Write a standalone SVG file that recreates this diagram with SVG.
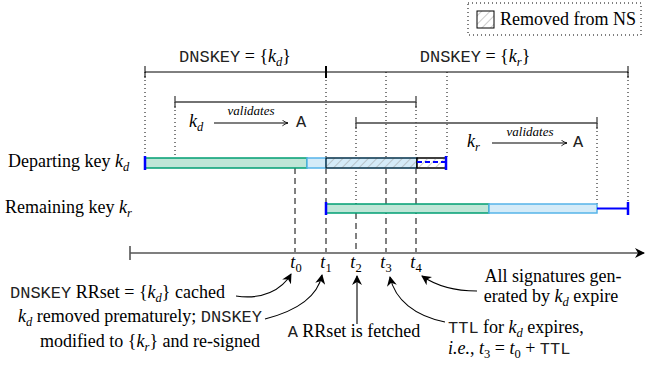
<svg xmlns="http://www.w3.org/2000/svg" width="650" height="366" viewBox="0 0 650 366">
<style>
text{font-family:"Liberation Serif","Times New Roman",serif;font-size:18px;fill:#000}
.mono{font-family:"Liberation Mono","Courier New",monospace;font-size:17px;fill:#222}
.mi{font-style:italic}
.sub{font-size:12.5px;font-style:italic}
.subn{font-size:12.5px;font-style:normal}
.val{font-size:13px;font-style:italic}
.dot{stroke:#000;stroke-width:1;stroke-dasharray:1 3;fill:none}
.dash{stroke:#000;stroke-width:1;stroke-dasharray:6 4;fill:none}
.span{stroke:#000;stroke-width:1;fill:none}
.gspan{stroke:#444;stroke-width:1.3;fill:none}
.green{fill:#bfe6d7;stroke:#009e73;stroke-width:1.5}
.lblue{fill:#d4ebf8;stroke:#56b4e9;stroke-width:1.5}
.btick{stroke:#0000ff;stroke-width:2.5;fill:none}
.conn{stroke:#000;stroke-width:1.1;fill:none}
</style>
<defs>
<pattern id="hatch" patternUnits="userSpaceOnUse" width="6" height="6" patternTransform="rotate(45)">
<line x1="0" y1="0" x2="0" y2="6" stroke="#999" stroke-width="1"/>
</pattern>
<marker id="stealth" viewBox="0 0 10 10" refX="9" refY="5" markerWidth="10" markerHeight="10" markerUnits="userSpaceOnUse" orient="auto">
<path d="M0,0 L10,5 L0,10 L3,5 z" fill="#000"/>
</marker>
<marker id="open" viewBox="0 0 10 10" refX="9" refY="5" markerWidth="7" markerHeight="7" markerUnits="userSpaceOnUse" orient="auto">
<path d="M1,1 Q5,4 9,5 Q5,6 1,9" fill="none" stroke="#000" stroke-width="1.2"/>
</marker>
</defs>

<g id="legend">
<rect x="468" y="3" width="173" height="32" class="dot"/>
<rect x="477" y="11" width="17" height="17" fill="url(#hatch)" stroke="#000" stroke-width="1"/>
<text x="500" y="25">Removed from NS</text>
</g>

<g id="guides">
<line x1="145" y1="72" x2="145" y2="158" class="dot"/>
<line x1="175" y1="102" x2="175" y2="158" class="dot"/>
<line x1="326" y1="72" x2="326" y2="158" class="dot"/>
<line x1="356" y1="123" x2="356" y2="204" class="dot"/>
<line x1="386" y1="72" x2="386" y2="158" class="dot"/>
<line x1="416" y1="102" x2="416" y2="158" class="dot"/>
<line x1="447" y1="72" x2="447" y2="158" class="dot"/>
<line x1="597" y1="123" x2="597" y2="204" class="dot"/>
<line x1="628" y1="72" x2="628" y2="204" class="dot"/>
<line x1="295" y1="168" x2="295" y2="252" class="dash"/>
<line x1="326" y1="168" x2="326" y2="252" class="dash"/>
<line x1="356" y1="213" x2="356" y2="252" class="dash"/>
<line x1="386" y1="168" x2="386" y2="252" class="dash"/>
<line x1="416" y1="168" x2="416" y2="252" class="dash"/>
</g>

<g id="dnskey-spans">
<path d="M145,72 H628 M145,66 V78 M628,66 V78" class="span"/>
<path d="M326,66 V78" stroke="#000" stroke-width="2"/>
<text x="235" y="62" text-anchor="middle"><tspan class="mono">DNSKEY</tspan> = {<tspan class="mi">k</tspan><tspan class="sub" dy="4">d</tspan><tspan dy="-4">}</tspan></text>
<text x="475" y="62" text-anchor="middle"><tspan class="mono">DNSKEY</tspan> = {<tspan class="mi">k</tspan><tspan class="sub" dy="4">r</tspan><tspan dy="-4">}</tspan></text>
</g>

<g id="kd-validates">
<path d="M175,102 H416 M175,96 V108 M416,96 V108" class="gspan"/>
<text x="189" y="127" class="mi">k<tspan class="sub" dy="4">d</tspan></text>
<line x1="214" y1="123" x2="288" y2="123" class="conn" marker-end="url(#open)"/>
<text x="251" y="115" class="val" text-anchor="middle">validates</text>
<text x="296" y="127" class="mono">A</text>
</g>

<g id="kr-validates">
<path d="M356,123 H597 M356,117 V129 M597,117 V129" class="gspan"/>
<text x="467" y="147" class="mi">k<tspan class="sub" dy="4">r</tspan></text>
<line x1="492" y1="143" x2="567" y2="143" class="conn" marker-end="url(#open)"/>
<text x="530" y="136" class="val" text-anchor="middle">validates</text>
<text x="573" y="147" class="mono">A</text>
</g>

<g id="departing-key">
<text x="8" y="167">Departing key <tspan class="mi">k</tspan><tspan class="sub" dy="4">d</tspan></text>
<rect x="145" y="158" width="162" height="10" class="green"/>
<rect x="307" y="158" width="19" height="10" class="lblue"/>
<rect x="326" y="158" width="91" height="10" class="lblue"/>
<rect x="326" y="158" width="91" height="10" fill="url(#hatch)" stroke="#000" stroke-width="1"/>
<rect x="417" y="158" width="29" height="10" fill="#fff" stroke="#000" stroke-width="1"/>
<rect x="417" y="158" width="29" height="10" fill="url(#hatch)" stroke="#000" stroke-width="1"/>
<line x1="417" y1="162" x2="446" y2="162" stroke="#0000ff" stroke-width="2" stroke-dasharray="5 3"/>
<path d="M145,156 V170 M446,156 V170" class="btick"/>
</g>

<g id="remaining-key">
<text x="5" y="213">Remaining key <tspan class="mi">k</tspan><tspan class="sub" dy="4">r</tspan></text>
<rect x="326" y="204" width="163" height="9" class="green"/>
<rect x="489" y="204" width="108" height="9" class="lblue"/>
<path d="M597,208.5 H628" stroke="#0000ff" stroke-width="2"/>
<path d="M326,202 V215 M628,202 V215" class="btick"/>
</g>

<g id="timeline">
<line x1="130" y1="253" x2="644" y2="253" stroke="#555" stroke-width="1.6" marker-end="url(#stealth)"/>
<line x1="130" y1="246" x2="130" y2="260" stroke="#555" stroke-width="1.6"/>
<text x="296" y="268" text-anchor="middle"><tspan class="mi">t</tspan><tspan class="subn" dy="4">0</tspan></text>
<text x="326" y="268" text-anchor="middle"><tspan class="mi">t</tspan><tspan class="subn" dy="4">1</tspan></text>
<text x="356" y="268" text-anchor="middle"><tspan class="mi">t</tspan><tspan class="subn" dy="4">2</tspan></text>
<text x="386" y="268" text-anchor="middle"><tspan class="mi">t</tspan><tspan class="subn" dy="4">3</tspan></text>
<text x="416" y="268" text-anchor="middle"><tspan class="mi">t</tspan><tspan class="subn" dy="4">4</tspan></text>
</g>

<g id="connectors">
<path d="M236,296 C262,300 282,290 291,274" class="conn" marker-end="url(#stealth)"/>
<path d="M265,319 C300,310 318,295 322,275" class="conn" marker-end="url(#stealth)"/>
<path d="M357,324 V276" class="conn" marker-end="url(#stealth)"/>
<path d="M445,322 C415,316 395,300 390,277" class="conn" marker-end="url(#stealth)"/>
<path d="M477,291 C455,291 435,285 422,276" class="conn" marker-end="url(#stealth)"/>
</g>

<g id="annotations">
<text x="10" y="298"><tspan class="mono">DNSKEY</tspan> RRset = {<tspan class="mi">k</tspan><tspan class="sub" dy="4">d</tspan><tspan dy="-4">} cached</tspan></text>
<text x="262" y="322" text-anchor="end"><tspan class="mi">k</tspan><tspan class="sub" dy="4">d</tspan><tspan dy="-4"> removed prematurely; </tspan><tspan class="mono">DNSKEY</tspan></text>
<text x="260" y="347" text-anchor="end">modified to {<tspan class="mi">k</tspan><tspan class="sub" dy="4">r</tspan><tspan dy="-4">} and re-signed</tspan></text>
<text x="354" y="337" text-anchor="middle"><tspan class="mono">A</tspan> RRset is fetched</text>
<text x="448" y="333"><tspan class="mono">TTL</tspan> for <tspan class="mi">k</tspan><tspan class="sub" dy="4">d</tspan><tspan dy="-4"> expires,</tspan></text>
<text x="448" y="354"><tspan class="mi">i.e.</tspan>, <tspan class="mi">t</tspan><tspan class="subn" dy="4">3</tspan><tspan dy="-4"> = </tspan><tspan class="mi">t</tspan><tspan class="subn" dy="4">0</tspan><tspan dy="-4"> + </tspan><tspan class="mono">TTL</tspan></text>
<text x="553" y="282" text-anchor="middle">All signatures gen-</text>
<text x="551" y="302" text-anchor="middle">erated by <tspan class="mi">k</tspan><tspan class="sub" dy="4">d</tspan><tspan dy="-4"> expire</tspan></text>
</g>
</svg>
